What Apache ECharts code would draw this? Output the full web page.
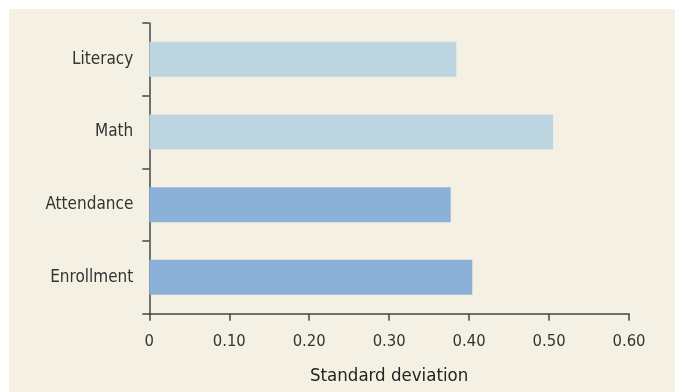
<!DOCTYPE html>
<html>
<head>
<meta charset="utf-8">
<script src="https://cdn.jsdelivr.net/npm/echarts@6/dist/echarts.min.js"></script>
<style>
html,body{margin:0;padding:0;background:#ffffff;}
#chart{position:absolute;left:9px;top:9px;width:666px;height:383px;background:#f4f0e3;}
</style>
</head>
<body>
<div id="chart"></div>
<script>
const categories = ['Enrollment', 'Attendance', 'Math', 'Literacy'];
const values = [0.404, 0.377, 0.505, 0.384];
const xTicks = [0, 0.1, 0.2, 0.3, 0.4, 0.5, 0.6];
const xAxisName = 'Standard deviation';

const darkBlue = '#8cb1d8';
const lightBlue = '#bdd5e1';
const fontFam = "'DejaVu Sans Condensed', 'Liberation Sans Narrow', sans-serif";
const textColor = '#333333';

const chart = echarts.init(document.getElementById('chart'), null, {renderer: 'canvas'});
chart.setOption({
  backgroundColor: '#f4f0e3',
  animation: false,
  grid: {left: 140.3, right: 46, top: 14, bottom: 78.3},
  xAxis: {
    type: 'value',
    min: xTicks[0],
    max: xTicks[xTicks.length - 1],
    interval: 0.1,
    name: xAxisName,
    nameLocation: 'middle',
    nameGap: 53,
    nameTextStyle: {fontFamily: fontFam, fontSize: 18.5, color: '#222'},
    axisLine: {show: true, lineStyle: {color: '#444', width: 1.5}},
    axisTick: {show: true, length: 7, lineStyle: {color: '#444', width: 1.5}},
    splitLine: {show: false},
    axisLabel: {
      margin: 20,
      fontFamily: fontFam, fontSize: 16.5, color: textColor,
      formatter: v => v === 0 ? '0' : v.toFixed(2)
    }
  },
  yAxis: {
    type: 'category',
    data: categories,
    axisLine: {show: true, lineStyle: {color: '#444', width: 1.5}},
    axisTick: {show: true, length: 7, lineStyle: {color: '#444', width: 1.5}},
    axisLabel: {margin: 16, fontFamily: fontFam, fontSize: 17, color: textColor}
  },
  series: [{
    type: 'bar',
    data: values,
    barWidth: 35,
    itemStyle: {
      color: p => (p.dataIndex >= 2 ? lightBlue : darkBlue)
    }
  }]
});
</script>
</body>
</html>
